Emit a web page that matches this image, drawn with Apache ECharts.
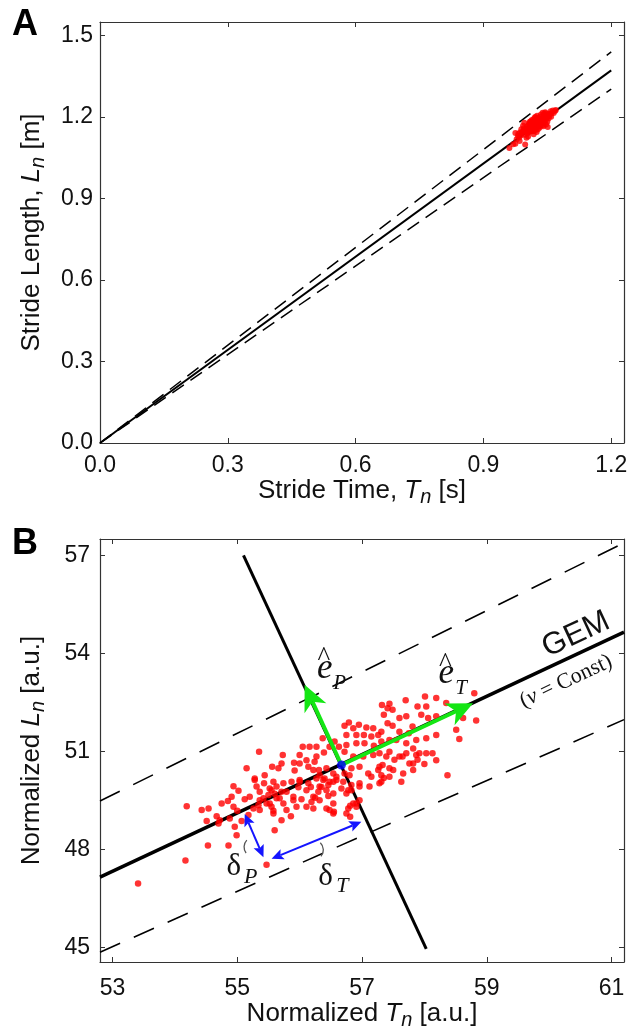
<!DOCTYPE html>
<html>
<head>
<meta charset="utf-8">
<script src="https://cdn.jsdelivr.net/npm/echarts@6/dist/echarts.min.js"></script>
<style>
html,body{margin:0;padding:0;background:#fff;}
#chart{width:636px;height:1031px;}
</style>
</head>
<body>
<div id="chart"></div>
<script>
// ---------------- Panel A data ----------------
const aXTicks = [0, 0.3, 0.6, 0.9, 1.2];
const aYTicks = [0, 0.3, 0.6, 0.9, 1.2, 1.5];
const aGem = [[0, 0], [1.2, 1.372]];
const aUpper = [[0, 0], [1.2, 1.44]];
const aLower = [[0, 0], [1.2, 1.303]];
const aStrides = [
  [0.961,1.086],[0.975,1.102],[0.975,1.141],[0.982,1.139],[0.981,1.130],[0.986,1.143],[0.989,1.155],
  [0.988,1.132],[0.992,1.146],[0.993,1.168],[0.996,1.179],[0.998,1.146],[0.998,1.099],[1.001,1.124],
  [1.000,1.158],[1.003,1.151],[1.006,1.171],[1.006,1.145],[1.008,1.177],[1.009,1.146],[1.011,1.184],
  [1.011,1.169],[1.013,1.188],[1.014,1.176],[1.015,1.160],[1.016,1.148],[1.018,1.137],[1.019,1.162],
  [1.020,1.170],[1.021,1.198],[1.022,1.200],[1.023,1.176],[1.024,1.191],[1.025,1.145],[1.027,1.191],
  [1.028,1.164],[1.029,1.196],[1.031,1.166],[1.032,1.194],[1.032,1.161],[1.034,1.188],[1.035,1.209],
  [1.037,1.176],[1.039,1.216],[1.039,1.185],[1.041,1.166],[1.042,1.211],[1.043,1.206],[1.045,1.189],
  [1.045,1.218],[1.047,1.204],[1.047,1.173],[1.051,1.163],[1.053,1.195],[1.055,1.203],[1.058,1.221],
  [1.059,1.201],[1.068,1.222],[1.065,1.215],[1.003,1.157],[1.013,1.160],[1.023,1.152],[1.028,1.155],
  [1.018,1.150],[1.034,1.168],[1.040,1.171],[1.008,1.159],[0.995,1.159],[1.019,1.183],[1.029,1.190],
  [1.036,1.188],[1.009,1.183],[0.999,1.153],[1.014,1.155],
  [0.970,1.100],[0.978,1.118],[0.984,1.125],[0.990,1.140],[0.994,1.150],[0.997,1.135],[1.002,1.165],
  [1.004,1.140],[1.007,1.160],[1.010,1.172],[1.012,1.150],[1.016,1.178],[1.017,1.192],[1.021,1.185],
  [1.024,1.168],[1.026,1.180],[1.030,1.178],[1.033,1.200],[1.036,1.178],[1.038,1.196],[1.041,1.200],
  [1.044,1.180],[1.046,1.214],[1.049,1.196],[1.052,1.210],[1.056,1.212],[1.060,1.214],[1.063,1.224],
  [1.070,1.226],[1.050,1.183],[1.026,1.205],[1.005,1.128],[0.985,1.112]
];

// ---------------- Panel B data ----------------
const bXTicks = [53, 55, 57, 59, 61];
const bYTicks = [45, 48, 51, 54, 57];
const bGem = [[52.8, 47.15], [61.2, 54.65]];
const bUpper = [[52.8, 49.48], [61.2, 57.38]];
const bLower = [[52.8, 44.85], [61.2, 51.97]];
const bPerp = [[55.10, 57.0], [58.03, 44.95]];
const bCenter = [[56.67, 50.58]];
const bUnitVectors = [[56.67, 50.58, 58.78, 52.47], [56.67, 50.58, 56.08, 53.04]];
const bDeviations = [[55.12, 49.08, 55.42, 47.76], [55.55, 47.71, 56.99, 48.84]];
const bArcs = [[55.27, 48.07], [56.22, 47.98]];
const bLabelAnchors = [[56.403, 53.54], [58.35, 53.375], [54.944, 47.457], [56.414, 47.171], [60.43, 54.573], [60.27, 53.139]];
const bLabelMain = ['e', 'e', 'δ', 'δ', 'GEM', '({nu|ν} = Const)'];
const bLabelSub = ['P', 'T', 'P', 'T', '', ''];
const bStrides = [
  // lower-left tail
  [53.41,46.95],[54.17,47.66],[54.53,48.12],[54.86,48.12],[54.19,49.32],[54.54,49.25],[54.51,48.87],
  [54.67,49.01],[54.70,48.79],[54.75,49.40],[54.85,49.48],[54.94,49.93],[55.02,49.79],[55.12,49.53],
  [55.15,50.48],[54.94,49.30],[55.00,49.18],[54.88,48.94],[54.96,48.69],[54.99,48.43],[55.07,48.87],
  [55.18,49.05],[55.26,49.25],[55.34,49.35],[55.42,49.56],[55.44,50.27],[55.28,50.17],[55.31,49.92],
  [55.43,50.02],[55.50,49.66],[55.55,49.81],[55.60,49.70],[55.63,49.56],[55.58,50.07],[55.66,50.48],
  [55.71,49.76],[55.74,49.40],[55.55,49.30],[55.58,49.18],[55.60,48.58],[55.71,48.89],[55.47,47.53],
  [55.90,49.50],[55.86,49.01],[55.98,49.90],[56.00,50.07],[56.03,49.53],[56.19,49.45],[56.14,50.02],
  [56.18,49.91],[56.22,50.43],[56.30,49.76],[56.32,50.27],[56.40,50.17],[56.35,49.91],[56.46,49.97],
  [56.46,49.63],[56.48,49.20],[56.54,50.07],[56.59,50.22],[56.75,51.50],[56.75,51.19],[56.80,50.27],
  [56.72,50.32],[56.78,49.81],[56.78,49.25],[56.91,49.40],[56.55,49.15],[56.81,49.33],[56.81,49.00],
  [56.96,49.50],[57.35,50.18],[56.25,49.58],[56.91,51.25],[56.00,50.89],
  [54.43,49.20],[54.91,49.61],[55.20,49.61],[55.36,49.50],[55.36,49.20],[55.47,49.40],[55.36,49.76],
  [55.28,50.12],[54.72,48.89],
  // dense core
  [55.52,49.86],[55.63,49.92],[55.74,50.02],[55.87,50.07],[56.00,50.12],[56.27,50.17],[56.38,50.12],
  [56.48,50.07],[56.59,50.12],[56.70,50.07],[55.68,49.56],[55.79,49.76],[55.90,49.61],[56.11,49.81],
  [56.22,49.61],[56.32,49.92],[56.43,49.81],[56.54,49.71],[56.67,49.86],[56.75,49.71],[56.83,49.81],
  [56.96,49.92],[57.12,49.92],[57.31,50.07],[56.86,49.40],[56.54,49.40],[56.43,49.25],[56.32,49.50],
  [56.22,49.25],[56.11,49.30],[55.95,49.30],[55.79,49.20],[55.58,49.10],[55.52,49.40],[56.54,49.10],
  [56.75,49.10],[56.91,49.30],
  // upper-right part
  [57.70,52.56],[58.01,52.68],[58.19,52.63],[57.89,52.37],[58.03,52.37],[57.44,52.46],[57.32,52.42],
  [57.49,52.27],[57.35,52.12],[57.60,52.02],[57.71,52.07],[57.95,52.12],[58.06,52.02],[58.19,52.07],
  [57.81,51.76],[57.49,51.78],[57.75,51.55],[57.60,51.60],[57.41,51.86],[57.31,51.60],[57.18,51.71],
  [57.07,51.73],[56.95,51.81],[56.79,51.88],[56.72,51.78],[56.86,51.71],[56.91,51.50],[57.03,51.50],
  [57.15,51.45],[57.26,51.50],[57.04,51.25],[57.19,51.17],[57.31,51.30],[57.44,51.35],[57.55,51.35],
  [57.71,51.25],[57.87,51.35],[58.03,51.40],[58.19,51.50],[57.82,51.09],[57.92,50.94],[58.03,50.94],
  [57.71,50.94],[57.60,50.84],[57.44,50.99],[57.28,50.94],[57.18,50.89],[57.02,50.84],[56.86,50.84],
  [56.72,50.99],[56.63,51.14],[56.56,51.30],[56.48,51.14],[56.37,51.40],[56.27,51.14],[56.39,50.96],
  [56.27,50.84],[56.16,51.14],[56.05,51.14],[56.24,50.68],[56.11,50.73],[56.00,50.63],[55.91,50.65],
  [55.73,50.89],[55.71,50.63],[55.56,50.53],[55.35,50.99],[55.92,50.41],[56.14,50.53],[56.31,50.43],
  [56.43,50.48],[56.54,50.32],[56.83,50.48],[56.96,50.53],[57.10,50.32],[57.26,50.43],[57.50,50.43],
  [57.66,50.32],[57.82,50.63],[58.00,50.61],[58.19,50.73],[57.82,50.43],[57.63,50.07],[57.28,50.53],
  [57.87,50.89],[58.13,50.94],[57.65,50.84],[57.76,50.63],[57.89,50.74],[57.52,50.74],[57.39,50.84],
  [57.33,50.58],[57.44,50.48],[57.31,50.27],[57.44,50.22],[57.28,50.02],[58.37,50.27],[57.15,50.22],
  [56.96,50.02],[56.83,49.97],[58.80,52.78],[58.62,52.02],[58.83,51.94],[58.51,51.66],[58.56,51.38],
  [58.35,52.48],[57.41,52.32]
];

// ---------------- styling ----------------
const SANS = '"Liberation Sans", Arial, Helvetica, sans-serif';
const SERIF = '"Liberation Serif", "Times New Roman", serif';
const INK = '#111';
const GREEN = '#14e614';
const BLUE = '#1414ff';

function nameStyle() {
  return {
    fontFamily: SANS, fontSize: 26, color: INK,
    rich: {
      i: {fontFamily: SANS, fontSize: 26, fontStyle: 'italic', color: INK},
      s: {fontFamily: SANS, fontSize: 20, fontStyle: 'italic', color: INK, padding: [13, 0, 0, 0]}
    }
  };
}
function axis(gridIndex, position, min, max, ticks, opt) {
  opt = opt || {};
  return {
    type: 'value', gridIndex: gridIndex, position: position, min: min, max: max,
    axisLine: {show: true, onZero: false, lineStyle: {color: '#333', width: 1.2}},
    axisTick: {show: true, inside: true, length: 5, lineStyle: {color: '#333', width: 1}, customValues: ticks},
    axisLabel: {
      show: !!opt.labels, customValues: ticks,
      formatter: function (v) { return Number(v).toFixed(opt.dec || 0); },
      fontFamily: SANS, fontSize: 23, color: INK, margin: opt.margin || 8
    },
    splitLine: {show: false},
    name: opt.name || '', nameLocation: 'middle', nameGap: opt.nameGap || 0,
    nameTextStyle: nameStyle(),
    silent: true
  };
}

function head(tip, ux, uy, s) {
  const bx = tip[0] - ux * s.head, by = tip[1] - uy * s.head;
  const nx = tip[0] - ux * s.head * s.notch, ny = tip[1] - uy * s.head * s.notch;
  return {
    type: 'polygon',
    shape: {points: [[tip[0], tip[1]], [bx - uy * s.half, by + ux * s.half], [nx, ny], [bx + uy * s.half, by - ux * s.half]]},
    style: {fill: s.color}
  };
}
function arrowRender(s) {
  return function (params, api) {
    const p0 = api.coord([api.value(0), api.value(1)]);
    const p1 = api.coord([api.value(2), api.value(3)]);
    const dx = p1[0] - p0[0], dy = p1[1] - p0[1];
    const len = Math.hypot(dx, dy);
    const ux = dx / len, uy = dy / len;
    const inset = s.head * s.notch;
    const a = s.both ? [p0[0] + ux * inset, p0[1] + uy * inset] : p0;
    const b = [p1[0] - ux * inset, p1[1] - uy * inset];
    const children = [
      {type: 'line', shape: {x1: a[0], y1: a[1], x2: b[0], y2: b[1]}, style: {stroke: s.color, lineWidth: s.width}},
      head(p1, ux, uy, s)
    ];
    if (s.both) children.push(head(p0, -ux, -uy, s));
    return {type: 'group', children: children};
  };
}

const arcSpec = [[2.5, 3.9], [-0.8, 0.7]]; // start/end angles (rad) for the two leader arcs
function arcRender(params, api) {
  const p = api.coord([api.value(0), api.value(1)]);
  const sp = arcSpec[params.dataIndex];
  return {type: 'arc', shape: {cx: p[0], cy: p[1], r: 10, startAngle: sp[0], endAngle: sp[1]},
          style: {stroke: '#555', lineWidth: 1.3, fill: null}};
}

function labelRender(params, api) {
  const i = params.dataIndex;
  const p = api.coord([api.value(0), api.value(1)]);
  if (i < 2) { // unit vector labels e-hat
    return {type: 'group', x: p[0], y: p[1], children: [
      {type: 'text', style: {text: 'e', x: 0, y: 0, align: 'center', verticalAlign: 'middle', font: 'italic 35px ' + SERIF, fill: INK}},
      {type: 'text', style: {text: '^', x: -1, y: -10, align: 'center', verticalAlign: 'middle', font: '27px ' + SERIF, fill: INK}},
      {type: 'text', style: {text: bLabelSub[i], x: 15, y: 15, align: 'center', verticalAlign: 'middle', font: 'italic 21px ' + SERIF, fill: INK}}
    ]};
  }
  if (i < 4) { // deviation labels delta
    return {type: 'group', x: p[0], y: p[1], children: [
      {type: 'text', style: {text: 'δ', x: 0, y: 0, align: 'center', verticalAlign: 'middle', font: '31px ' + SERIF, fill: INK}},
      {type: 'text', style: {text: bLabelSub[i], x: 17, y: 10, align: 'center', verticalAlign: 'middle', font: 'italic 22px ' + SERIF, fill: INK}}
    ]};
  }
  const g0 = api.coord(bGem[0]), g1 = api.coord(bGem[1]);
  const rot = Math.atan2(g0[1] - g1[1], g1[0] - g0[0]);
  if (i === 4) {
    return {type: 'text', x: p[0], y: p[1], rotation: rot,
      style: {text: bLabelMain[i], x: 0, y: 0, align: 'center', verticalAlign: 'middle', font: '31px ' + SANS, fill: INK}};
  }
  return {type: 'text', x: p[0], y: p[1], rotation: rot,
    style: {text: bLabelMain[i], x: 0, y: 0, align: 'center', verticalAlign: 'middle', font: '22px ' + SERIF, fill: INK,
      rich: {nu: {font: 'italic 22px ' + SERIF, fill: INK}}}};
}

const chart = echarts.init(document.getElementById('chart'), null, {renderer: 'canvas'});
const option = {
  animation: false,
  backgroundColor: '#fff',
  grid: [
    {left: 100, right: 12, top: 22, height: 421, outerBoundsMode: 'none'},
    {left: 100, right: 12, top: 539, height: 423, outerBoundsMode: 'none'}
  ],
  xAxis: [
    axis(0, 'bottom', 0, 1.23, aXTicks, {labels: true, dec: 1, margin: 11,
      name: 'Stride Time, {i|T}{s|n} [s]', nameGap: 30}),
    axis(0, 'top', 0, 1.23, aXTicks),
    axis(1, 'bottom', 52.8, 61.2, bXTicks, {labels: true, dec: 0, margin: 15,
      name: 'Normalized {i|T}{s|n} [a.u.]', nameGap: 29}),
    axis(1, 'top', 52.8, 61.2, bXTicks)
  ],
  yAxis: [
    axis(0, 'left', 0, 1.55, aYTicks, {labels: true, dec: 1, margin: 7,
      name: 'Stride Length, {i|L}{s|n} [m]', nameGap: 52}),
    axis(0, 'right', 0, 1.55, aYTicks),
    axis(1, 'left', 44.55, 57.5, bYTicks, {labels: true, dec: 0, margin: 10,
      name: 'Normalized {i|L}{s|n} [a.u.]', nameGap: 52}),
    axis(1, 'right', 44.55, 57.5, bYTicks)
  ],
  graphic: [
    {type: 'text', left: 12, top: 7, style: {text: 'A', font: 'bold 36px ' + SANS, fill: '#000'}},
    {type: 'text', left: 12, top: 526, style: {text: 'B', font: 'bold 36px ' + SANS, fill: '#000'}}
  ],
  series: [
    // Panel A
    {type: 'line', xAxisIndex: 0, yAxisIndex: 0, data: aUpper, symbol: 'none', silent: true,
      lineStyle: {color: '#000', width: 1.5, type: [14, 8]}, z: 2},
    {type: 'line', xAxisIndex: 0, yAxisIndex: 0, data: aLower, symbol: 'none', silent: true,
      lineStyle: {color: '#000', width: 1.5, type: [14, 8]}, z: 2},
    {type: 'line', xAxisIndex: 0, yAxisIndex: 0, data: aGem, symbol: 'none', silent: true,
      lineStyle: {color: '#000', width: 2}, z: 2},
    {type: 'scatter', xAxisIndex: 0, yAxisIndex: 0, data: aStrides, symbol: 'circle', symbolSize: 6, silent: true,
      itemStyle: {color: '#ff0000'}, z: 3},
    // Panel B
    {type: 'line', xAxisIndex: 2, yAxisIndex: 2, data: bUpper, symbol: 'none', silent: true,
      lineStyle: {color: '#000', width: 1.6, type: [22, 15]}, z: 2},
    {type: 'line', xAxisIndex: 2, yAxisIndex: 2, data: bLower, symbol: 'none', silent: true,
      lineStyle: {color: '#000', width: 1.6, type: [22, 15]}, z: 2},
    {type: 'line', xAxisIndex: 2, yAxisIndex: 2, data: bPerp, symbol: 'none', silent: true,
      lineStyle: {color: '#000', width: 3}, z: 2},
    {type: 'line', xAxisIndex: 2, yAxisIndex: 2, data: bGem, symbol: 'none', silent: true,
      lineStyle: {color: '#000', width: 3.5}, z: 2},
    {type: 'scatter', xAxisIndex: 2, yAxisIndex: 2, data: bStrides, symbol: 'circle', symbolSize: 6.5, silent: true,
      itemStyle: {color: '#ff0000'}, z: 3},
    {type: 'custom', xAxisIndex: 2, yAxisIndex: 2, data: bUnitVectors, silent: true, z: 5,
      encode: {x: [0, 2], y: [1, 3]},
      renderItem: arrowRender({color: GREEN, width: 4, head: 26, half: 12, notch: 0.72, both: false})},
    {type: 'custom', xAxisIndex: 2, yAxisIndex: 2, data: bDeviations, silent: true, z: 5,
      encode: {x: [0, 2], y: [1, 3]},
      renderItem: arrowRender({color: BLUE, width: 2, head: 12, half: 5.5, notch: 0.8, both: true})},
    {type: 'custom', xAxisIndex: 2, yAxisIndex: 2, data: bArcs, silent: true, z: 5,
      encode: {x: 0, y: 1}, renderItem: arcRender},
    {type: 'scatter', xAxisIndex: 2, yAxisIndex: 2, data: bCenter, symbol: 'circle', symbolSize: 9, silent: true,
      itemStyle: {color: '#0000ff'}, z: 6},
    {type: 'custom', xAxisIndex: 2, yAxisIndex: 2, data: bLabelAnchors, silent: true, z: 7, clip: false,
      encode: {x: 0, y: 1}, renderItem: labelRender}
  ]
};
chart.setOption(option);
</script>
</body>
</html>
